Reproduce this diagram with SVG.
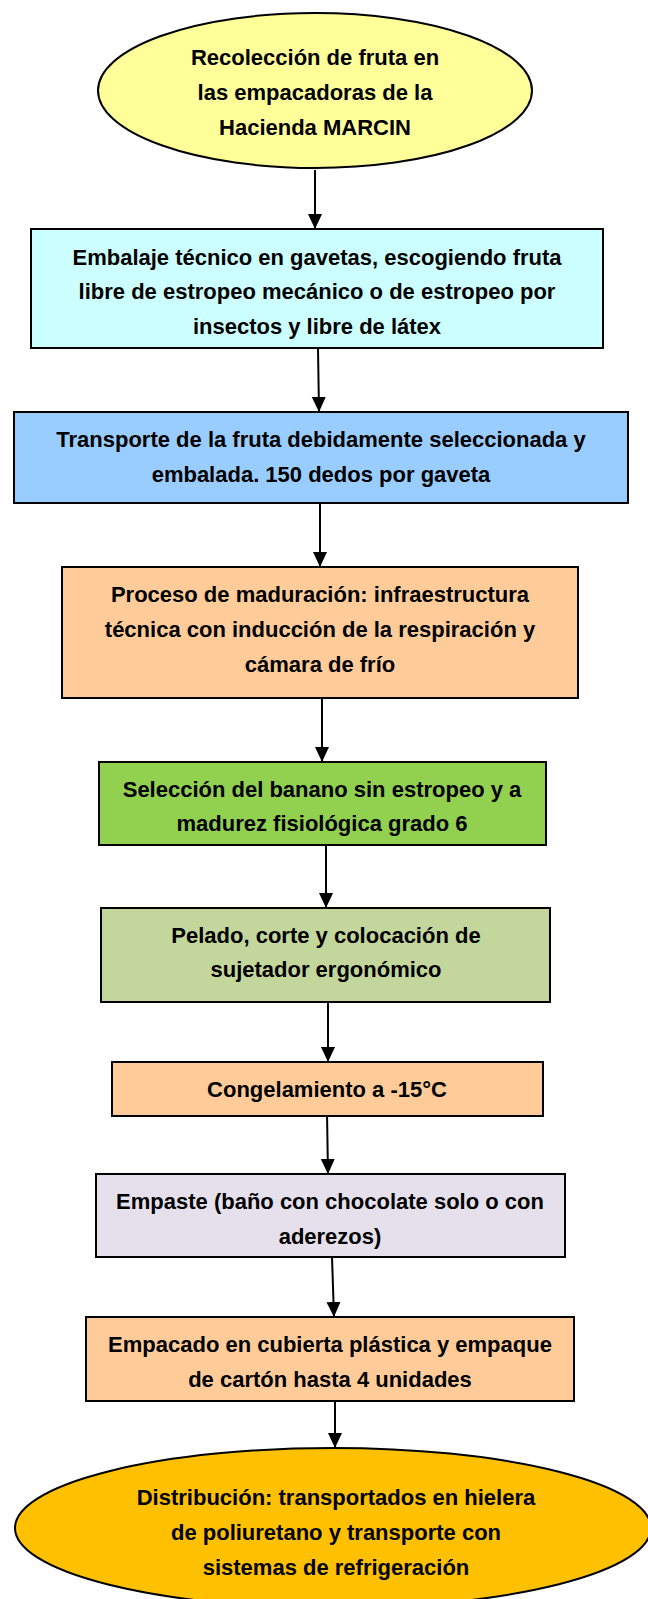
<svg xmlns="http://www.w3.org/2000/svg" width="648" height="1599" viewBox="0 0 648 1599">
<style>
.s{stroke:#000;stroke-width:2}
.t{font-family:"Liberation Sans",Arial,sans-serif;font-weight:bold;font-size:22px;fill:#000;text-anchor:middle}
.c{stroke:#000;stroke-width:2;fill:none}
</style>
<defs>
<marker id="ah" markerUnits="userSpaceOnUse" markerWidth="16" markerHeight="16" viewBox="0 0 16 16" refX="15" refY="8" orient="auto">
<path d="M0,1 L15,8 L0,15 Z" fill="#000"/>
</marker>
</defs>
<g id="connectors">
<line class="c" x1="315" y1="170" x2="315" y2="229" marker-end="url(#ah)"/>
<line class="c" x1="318" y1="348" x2="319" y2="412" marker-end="url(#ah)"/>
<line class="c" x1="320" y1="503" x2="320" y2="567" marker-end="url(#ah)"/>
<line class="c" x1="322" y1="695" x2="322" y2="762" marker-end="url(#ah)"/>
<line class="c" x1="326" y1="845" x2="326" y2="908" marker-end="url(#ah)"/>
<line class="c" x1="328" y1="1002" x2="328" y2="1062" marker-end="url(#ah)"/>
<line class="c" x1="327" y1="1113" x2="328" y2="1174" marker-end="url(#ah)"/>
<line class="c" x1="332" y1="1257" x2="334" y2="1317" marker-end="url(#ah)"/>
<line class="c" x1="335" y1="1401" x2="335" y2="1448" marker-end="url(#ah)"/>
</g>
<g id="n1">
<ellipse class="s" cx="315" cy="90.5" rx="217" ry="77.5" fill="#FFFF99"/>
<text class="t" x="315" y="65">Recolección de fruta en</text>
<text class="t" x="315" y="100">las empacadoras de la</text>
<text class="t" x="315" y="135">Hacienda MARCIN</text>
</g>
<g id="n2">
<rect class="s" x="31" y="229" width="572" height="119" fill="#CCFFFF"/>
<text class="t" x="317" y="265">Embalaje técnico en gavetas, escogiendo fruta</text>
<text class="t" x="317" y="299">libre de estropeo mecánico o de estropeo por</text>
<text class="t" x="317" y="334">insectos y libre de látex</text>
</g>
<g id="n3">
<rect class="s" x="14" y="412" width="614" height="91" fill="#99CCFF"/>
<text class="t" x="321" y="447">Transporte de la fruta debidamente seleccionada y</text>
<text class="t" x="321" y="482">embalada. 150 dedos por gaveta</text>
</g>
<g id="n4">
<rect class="s" x="62" y="567" width="516" height="131" fill="#FFCC99"/>
<text class="t" x="320" y="602">Proceso de maduración: infraestructura</text>
<text class="t" x="320" y="637">técnica con inducción de la respiración y</text>
<text class="t" x="320" y="672">cámara de frío</text>
</g>
<g id="n5">
<rect class="s" x="99" y="762" width="447" height="83" fill="#92D050"/>
<text class="t" x="322" y="797">Selección del banano sin estropeo y a</text>
<text class="t" x="322" y="831">madurez fisiológica grado 6</text>
</g>
<g id="n6">
<rect class="s" x="101" y="908" width="449" height="94" fill="#C3D69B"/>
<text class="t" x="326" y="943">Pelado, corte y colocación de</text>
<text class="t" x="326" y="977">sujetador ergonómico</text>
</g>
<g id="n7">
<rect class="s" x="112" y="1062" width="431" height="54" fill="#FFCC99"/>
<text class="t" x="327" y="1097">Congelamiento a -15°C</text>
</g>
<g id="n8">
<rect class="s" x="96" y="1174" width="469" height="83" fill="#E6E0EC"/>
<text class="t" x="330" y="1209">Empaste (baño con chocolate solo o con</text>
<text class="t" x="330" y="1244">aderezos)</text>
</g>
<g id="n9">
<rect class="s" x="86" y="1317" width="488" height="84" fill="#FFCC99"/>
<text class="t" x="330" y="1352">Empacado en cubierta plástica y empaque</text>
<text class="t" x="330" y="1387">de cartón hasta 4 unidades</text>
</g>
<g id="n10">
<ellipse class="s" cx="333" cy="1528" rx="318" ry="80" fill="#FFC000"/>
<text class="t" x="336" y="1505">Distribución: transportados en hielera</text>
<text class="t" x="336" y="1540">de poliuretano y transporte con</text>
<text class="t" x="336" y="1575">sistemas de refrigeración</text>
</g>
</svg>
